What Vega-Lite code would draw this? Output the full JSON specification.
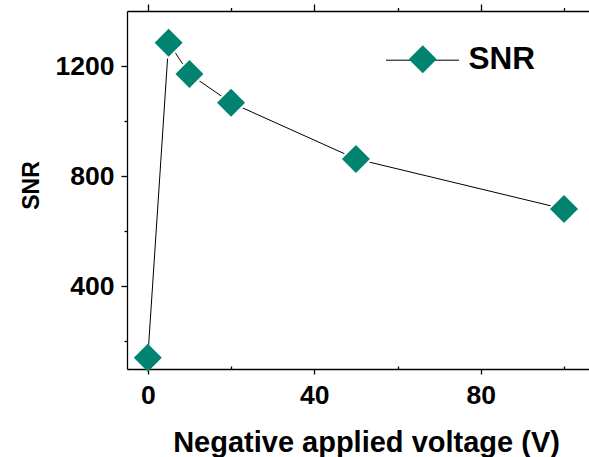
{
  "$schema": "https://vega.github.io/schema/vega-lite/v6.json",
  "width": 462,
  "height": 358,
  "autosize": {"type": "none"},
  "padding": {"left": 127, "top": 11, "right": 0, "bottom": 88},
  "background": "white",
  "config": {
    "view": {"stroke": null},
    "font": "Liberation Sans",
    "axis": {
      "domainColor": "#000000",
      "domainWidth": 1.3,
      "tickColor": "#000000",
      "tickWidth": 1.3,
      "labelColor": "#000000",
      "titleColor": "#000000",
      "grid": false,
      "labelFont": "Liberation Sans",
      "labelFontWeight": "bold",
      "titleFont": "Liberation Sans",
      "titleFontWeight": "bold"
    }
  },
  "data": {
    "values": [
      {"voltage": 0, "snr": 141, "series": "SNR"},
      {"voltage": 5, "snr": 1285, "series": "SNR"},
      {"voltage": 10, "snr": 1171, "series": "SNR"},
      {"voltage": 20, "snr": 1067, "series": "SNR"},
      {"voltage": 50, "snr": 863, "series": "SNR"},
      {"voltage": 100, "snr": 681, "series": "SNR"}
    ]
  },
  "resolve": {"scale": {"x": "shared", "y": "shared"}, "axis": {"x": "independent", "y": "independent"}},
  "layer": [
    {
      "mark": {"type": "line", "strokeWidth": 1, "color": "#000000"},
      "encoding": {
        "x": {
          "field": "voltage",
          "type": "quantitative",
          "scale": {"domain": [-5, 106], "nice": false, "zero": false},
          "axis": {
            "orient": "bottom",
            "values": [0, 20, 40, 60, 80, 100],
            "labelExpr": "datum.value % 40 == 0 ? datum.label : ''",
            "tickSize": {"condition": {"test": "datum.value % 40 == 0", "value": 5}, "value": -3},
            "labelFontSize": 26.5,
            "labelPadding": 8,
            "labelFlush": false,
            "labelOverlap": false,
            "title": "Negative applied voltage (V)",
            "titleFontSize": 29,
            "titleX": 239,
            "titlePadding": 20
          }
        },
        "y": {
          "field": "snr",
          "type": "quantitative",
          "scale": {"domain": [100, 1400], "nice": false, "zero": false},
          "axis": {
            "orient": "left",
            "values": [200, 400, 600, 800, 1000, 1200],
            "labelExpr": "datum.value % 400 == 0 ? datum.label : ''",
            "tickSize": {"condition": {"test": "datum.value % 400 == 0", "value": 6}, "value": 3},
            "labelFontSize": 26.5,
            "labelPadding": 7,
            "labelFlush": false,
            "labelOverlap": false,
            "format": "d",
            "title": "SNR",
            "titleFontSize": 23,
            "titlePadding": 12,
            "titleY": 174
          }
        },
        "stroke": {
          "field": "series",
          "type": "nominal",
          "scale": {"domain": ["SNR"], "range": ["#000000"]},
          "legend": {
            "orient": "none",
            "legendX": 258.5,
            "legendY": 12.2,
            "title": null,
            "padding": 0,
            "symbolType": "stroke",
            "symbolSize": 5329,
            "symbolStrokeWidth": 1,
            "labelFont": "Liberation Sans",
            "labelFontWeight": "bold",
            "labelFontSize": 31.5,
            "labelColor": "#000000",
            "labelOffset": 9,
            "zindex": 1
          }
        }
      }
    },
    {
      "transform": [{"filter": "datum.voltage > 0"}],
      "mark": {"type": "point", "shape": "diamond", "filled": true, "size": 1156, "color": "#ffffff", "opacity": 1, "strokeWidth": 0},
      "encoding": {
        "x": {"field": "voltage", "type": "quantitative", "axis": null},
        "y": {"field": "snr", "type": "quantitative", "axis": null}
      }
    },
    {
      "mark": {"type": "point", "shape": "diamond", "filled": true, "size": 784, "opacity": 1, "strokeWidth": 0},
      "encoding": {
        "x": {
          "field": "voltage",
          "type": "quantitative",
          "axis": {
            "orient": "top",
            "values": [0, 20, 40, 60, 80, 100],
            "labels": false,
            "title": null,
            "tickSize": {"condition": {"test": "datum.value % 40 == 0", "value": 7}, "value": 3.5}
          }
        },
        "y": {"field": "snr", "type": "quantitative", "axis": null},
        "fill": {
          "field": "series",
          "type": "nominal",
          "scale": {"range": ["#008371"]},
          "legend": {
            "orient": "none",
            "legendX": 280,
            "legendY": 32.5,
            "title": null,
            "padding": 0,
            "symbolType": "diamond",
            "symbolSize": 784,
            "symbolStrokeWidth": 0,
            "symbolOpacity": 1,
            "labelExpr": "''",
            "labelFontSize": 31.5,
            "zindex": 2
          }
        }
      }
    }
  ]
}
